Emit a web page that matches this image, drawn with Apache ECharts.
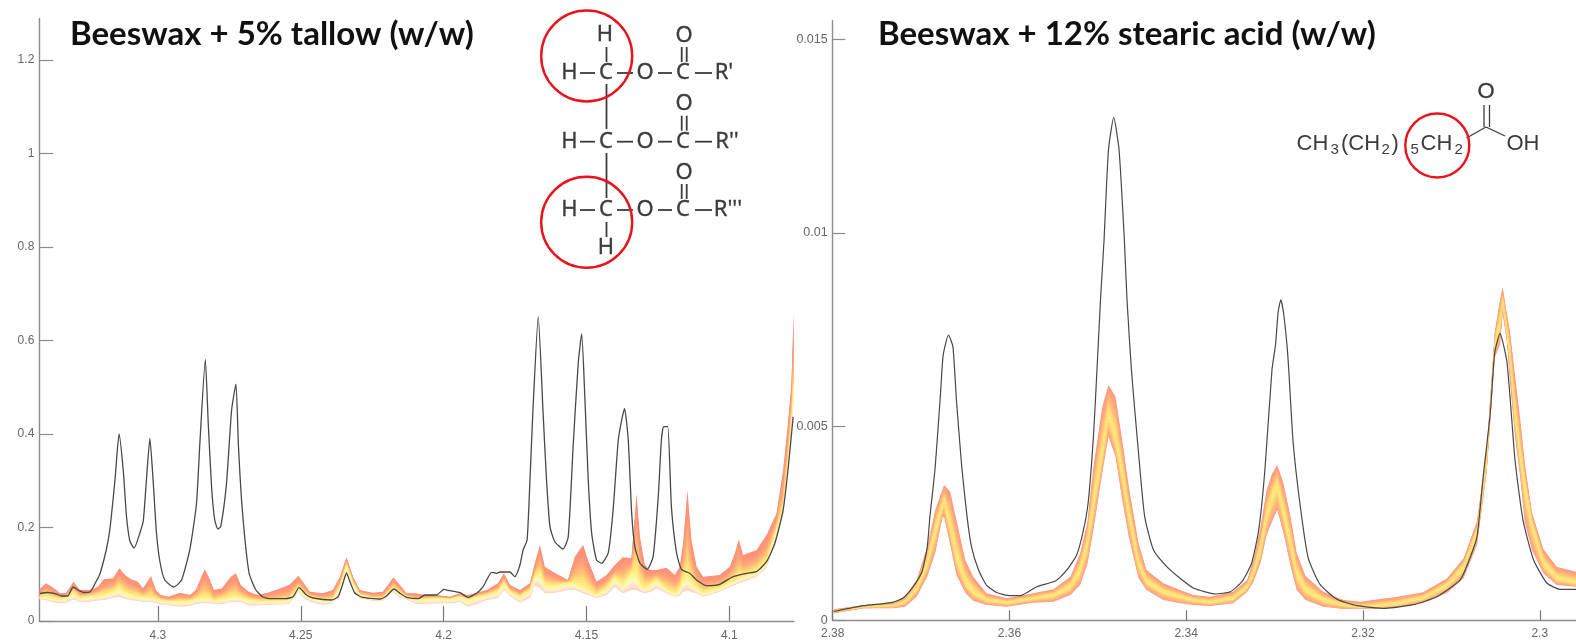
<!DOCTYPE html>
<html>
<head>
<meta charset="utf-8">
<style>html,body{margin:0;padding:0;background:#fff}#c{width:1576px;height:642px;filter:blur(0.4px)}</style>
<script src="https://cdn.jsdelivr.net/npm/echarts@6/dist/echarts.min.js"></script>
</head>
<body>
<div id="c"></div>
<script>
const leftYTicks = [0, 0.2, 0.4, 0.6, 0.8, 1, 1.2];
const leftXTicks = [4.3, 4.25, 4.2, 4.15, 4.1];
const rightYTicks = [0, 0.005, 0.01, 0.015];
const rightXTicks = [2.38, 2.36, 2.34, 2.32, 2.3];
const leftTitle = 'Beeswax + 5% tallow (w/w)';
const rightTitle = 'Beeswax + 12% stearic acid (w/w)';

// Left panel: envelope of the sample spectra (upper edge, yellow core, lower edge)
const leftBandX = [4.3413,4.3392,4.3371,4.3343,4.3322,4.3295,4.3273,4.3238,4.3210,4.3189,4.3157,4.3135,4.3115,4.3094,4.3070,4.3052,4.3024,4.3007,4.2990,4.2962,4.2923,4.2888,4.2867,4.2850,4.2836,4.2820,4.2804,4.2776,4.2745,4.2727,4.2710,4.2682,4.2651,4.2622,4.2587,4.2541,4.2508,4.2493,4.2468,4.2423,4.2388,4.2363,4.2340,4.2317,4.2293,4.2248,4.2213,4.2195,4.2176,4.2153,4.2130,4.2097,4.2066,4.2025,4.1978,4.1943,4.1915,4.1884,4.1849,4.1810,4.1789,4.1768,4.1733,4.1698,4.1681,4.1663,4.1646,4.1618,4.1565,4.1541,4.1512,4.1495,4.1465,4.1430,4.1401,4.1373,4.1343,4.1325,4.1313,4.1296,4.1278,4.1255,4.1220,4.1191,4.1174,4.1162,4.1147,4.1133,4.1115,4.1092,4.1034,4.0999,4.0981,4.0967,4.0952,4.0905,4.0870,4.0835,4.0812,4.0795,4.0783,4.0775];
const leftBandTop = [.0684,.0806,.0734,.0599,.0593,.0841,.0663,.0663,.0734,.0892,.0913,.1127,.0984,.0892,.0841,.0699,.0963,.0663,.0556,.0520,.0605,.0556,.0663,.0913,.1106,.0913,.0663,.0699,.0948,.1020,.0770,.0627,.0556,.0593,.0663,.0770,.0969,.0841,.0627,.0593,.0663,.0948,.1363,.0948,.0663,.0605,.0627,.0770,.0935,.0770,.0593,.0593,.0556,.0556,.0520,.0593,.0556,.0605,.0663,.0806,.1020,.0770,.0663,.0806,.1234,.1626,.1161,.1055,.0877,.1375,.1626,.1305,.0841,.0984,.1198,.1363,.1341,.2732,.1803,.1198,.1091,.1091,.1140,.0984,.1161,.1662,.2802,.1733,.1161,.0948,.0984,.1161,.1448,.1748,.1412,.1519,.1840,.2304,.3230,.4235,.5091,.6616];
const leftBandMid = [.0507,.0520,.0492,.0464,.0492,.0593,.0486,.0520,.0545,.0556,.0620,.0699,.0599,.0556,.0520,.0503,.0492,.0471,.0449,.0413,.0413,.0428,.0460,.0481,.0486,.0481,.0428,.0471,.0513,.0520,.0503,.0449,.0428,.0413,.0417,.0434,.0699,.0599,.0513,.0449,.0449,.0734,.1198,.0806,.0556,.0486,.0471,.0599,.0699,.0599,.0520,.0449,.0464,.0486,.0464,.0520,.0449,.0513,.0556,.0627,.0806,.0627,.0520,.0663,.0948,.1005,.0770,.0734,.0813,.0791,.0734,.0663,.0556,.0699,.0913,.0770,.1020,.1020,.0770,.0699,.0770,.0877,.0663,.0593,.0663,.0877,.0948,.0813,.0699,.0593,.0699,.0813,.0856,.0913,.0941,.1055,.1241,.1946,.2374,.3380,.4235,.5027];
const leftBandLow = [.0449,.0449,.0406,.0379,.0385,.0464,.0400,.0413,.0438,.0449,.0492,.0520,.0471,.0449,.0428,.0413,.0413,.0385,.0353,.0342,.0306,.0321,.0364,.0374,.0385,.0379,.0364,.0364,.0406,.0413,.0406,.0332,.0332,.0342,.0353,.0364,.0627,.0513,.0413,.0342,.0379,.0593,.1020,.0663,.0486,.0434,.0434,.0535,.0627,.0492,.0464,.0364,.0364,.0379,.0379,.0406,.0306,.0364,.0449,.0486,.0663,.0535,.0391,.0492,.0770,.0706,.0599,.0593,.0663,.0663,.0593,.0556,.0486,.0556,.0734,.0593,.0663,.0663,.0620,.0593,.0620,.0699,.0593,.0520,.0535,.0620,.0663,.0620,.0593,.0520,.0627,.0727,.0770,.0806,.0834,.0948,.1134,.1840,.2267,.3230,.4086,.4727];

// Left panel: reference beeswax spectrum
const leftRefX = [4.3413,4.3385,4.3357,4.3336,4.3315,4.3297,4.3280,4.3259,4.3238,4.3217,4.3203,4.3180,4.3168,4.3150,4.3136,4.3121,4.3110,4.3098,4.3083,4.3063,4.3051,4.3040,4.3028,4.3016,4.3005,4.2993,4.2976,4.2944,4.2917,4.2888,4.2865,4.2853,4.2834,4.2824,4.2812,4.2801,4.2790,4.2780,4.2760,4.2742,4.2727,4.2718,4.2704,4.2681,4.2657,4.2634,4.2611,4.2552,4.2527,4.2506,4.2480,4.2457,4.2392,4.2369,4.2352,4.2340,4.2328,4.2311,4.2287,4.2223,4.2200,4.2174,4.2153,4.2130,4.2089,4.2066,4.2025,4.1999,4.1978,4.1943,4.1914,4.1885,4.1862,4.1832,4.1815,4.1803,4.1768,4.1751,4.1733,4.1722,4.1708,4.1698,4.1687,4.1669,4.1652,4.1640,4.1628,4.1611,4.1582,4.1564,4.1547,4.1529,4.1517,4.1506,4.1494,4.1482,4.1465,4.1447,4.1424,4.1407,4.1389,4.1377,4.1367,4.1354,4.1342,4.1331,4.1313,4.1288,4.1267,4.1249,4.1238,4.1230,4.1216,4.1203,4.1185,4.1168,4.1139,4.1115,4.1080,4.1034,4.0987,4.0940,4.0905,4.0870,4.0841,4.0812,4.0795,4.0777];
const leftRefY = [.0588,.0610,.0578,.0535,.0535,.0727,.0663,.0610,.0620,.0834,.1005,.1540,.1968,.3027,.4000,.3209,.2246,.1711,.1561,.1882,.2150,.3027,.3904,.2939,.1882,.1273,.0877,.0727,.0877,.1540,.2503,.3816,.5596,.4257,.2851,.2160,.1968,.2019,.2939,.4513,.5069,.3728,.2332,.1027,.0663,.0520,.0477,.0477,.0520,.0712,.0556,.0492,.0449,.0520,.0813,.1027,.0841,.0599,.0513,.0471,.0535,.0684,.0593,.0507,.0477,.0556,.0556,.0678,.0648,.0605,.0507,.0593,.0734,.1042,.1020,.1048,.1048,.0948,.1198,.1519,.1733,.3016,.4584,.6509,.4449,.3016,.2017,.1696,.1540,.1803,.3728,.5519,.6139,.4798,.3016,.1876,.1305,.1234,.1455,.2374,.3872,.4299,.4550,.3872,.2304,.1589,.1234,.1106,.1375,.2659,.3872,.4156,.4156,.2445,.1455,.1106,.1020,.0877,.0755,.0785,.0948,.1020,.1055,.1268,.1662,.2374,.3230,.4370];

// Right panel: envelope of the sample spectra
const rightBandX = [2.3799,2.3765,2.3731,2.3718,2.3705,2.3693,2.3684,2.3676,2.3674,2.3667,2.3660,2.3650,2.3641,2.3626,2.3603,2.3573,2.3550,2.3531,2.3520,2.3512,2.3505,2.3495,2.3488,2.3480,2.3473,2.3465,2.3454,2.3445,2.3426,2.3407,2.3392,2.3373,2.3347,2.3331,2.3324,2.3316,2.3309,2.3303,2.3297,2.3290,2.3282,2.3275,2.3265,2.3245,2.3222,2.3203,2.3181,2.3162,2.3132,2.3105,2.3086,2.3071,2.3060,2.3051,2.3045,2.3042,2.3037,2.3034,2.3028,2.3022,2.3017,2.3009,2.2996,2.2981,2.2959];
const rightBandTop = [.000284,.000395,.000454,.000609,.00104,.0019,.002848,.003364,.003493,.00332,.00259,.001557,.001126,.000697,.000568,.000697,.0008,.001126,.00173,.002505,.003966,.005515,.006075,.005773,.004741,.00345,.001988,.001299,.000955,.000782,.000653,.000609,.000738,.00104,.001557,.002409,.003364,.003777,.00401,.003545,.002675,.001738,.001144,.000738,.000524,.00048,.00055,.000602,.000723,.001077,.001609,.002564,.004397,.007418,.00827,.008606,.007883,.007496,.006334,.005172,.004061,.002796,.001841,.001384,.001255];
const rightBandMid = [.000222,.000351,.000377,.00048,.000826,.001472,.002332,.002933,.003106,.002417,.001642,.000997,.000738,.000524,.000454,.000568,.000653,.000868,.001299,.001988,.003021,.004312,.005345,.004655,.003881,.002763,.001472,.000997,.000738,.000609,.000524,.000465,.000568,.000868,.001221,.001815,.002675,.003184,.003493,.002796,.001996,.001221,.000782,.000524,.000395,.000336,.000369,.000421,.000576,.000911,.001376,.00228,.004139,.007108,.007702,.008193,.007444,.006902,.005301,.004224,.003493,.002512,.00148,.001092,.000963];
const rightBandLow = [.000181,.00031,.00031,.000351,.000609,.001126,.00173,.002634,.002675,.001944,.00117,.000713,.000506,.000395,.000351,.000454,.00048,.000653,.000911,.001428,.002332,.003796,.004741,.004224,.003191,.002159,.001084,.000782,.000524,.000439,.000395,.000369,.000439,.000731,.000989,.001472,.002202,.002538,.002848,.002254,.001402,.000782,.000524,.000351,.000292,.000305,.000292,.00033,.000447,.000705,.001092,.001944,.003829,.006773,.007108,.007934,.00716,.006256,.004741,.003674,.002538,.001815,.001214,.000911,.000868];

// Right panel: reference beeswax spectrum
const rightRefX = [2.3799,2.3765,2.3732,2.3720,2.3709,2.3699,2.3693,2.3690,2.3684,2.3678,2.3675,2.3669,2.3664,2.3660,2.3654,2.3648,2.3643,2.3635,2.3626,2.3614,2.3599,2.3588,2.3569,2.3548,2.3535,2.3524,2.3517,2.3511,2.3505,2.3501,2.3497,2.3493,2.3488,2.3482,2.3476,2.3470,2.3467,2.3462,2.3454,2.3447,2.3437,2.3422,2.3407,2.3392,2.3367,2.3350,2.3337,2.3326,2.3318,2.3311,2.3303,2.3299,2.3296,2.3293,2.3290,2.3286,2.3284,2.3279,2.3271,2.3262,2.3249,2.3230,2.3207,2.3175,2.3143,2.3117,2.3090,2.3079,2.3071,2.3064,2.3056,2.3051,2.3045,2.3037,2.3028,2.3019,2.3007,2.2992,2.2977,2.2959];
const rightRefY = [.000227,.000377,.000465,.000584,.000868,.001255,.0019,.002675,.003966,.005861,.00685,.007366,.007064,.005688,.003966,.002675,.0019,.001299,.000911,.000713,.000635,.000635,.000868,.001015,.001299,.001686,.002254,.003029,.004741,.006463,.00827,.00982,.012143,.012987,.012143,.00982,.00827,.006463,.00432,.002675,.001815,.001384,.001084,.000834,.000679,.000738,.000997,.001472,.002332,.003881,.006463,.007108,.00796,.008275,.00796,.007108,.006463,.004578,.002951,.001609,.000937,.00055,.000377,.00031,.000405,.000602,.001041,.001609,.002159,.003708,.005353,.006902,.00741,.006644,.004139,.00259,.001557,.000963,.0008,.0008];

const zip = (xs, ...cols) => xs.map((x, i) => [x, ...cols.map(c => c[i])]);

function hex2rgb(h){return [1,3,5].map(k=>parseInt(h.substr(k,2),16));}
function ramp(stops,t){
  const p=t*(stops.length-1),i=Math.min(Math.floor(p),stops.length-2),f=p-i;
  const a=hex2rgb(stops[i]),b=hex2rgb(stops[i+1]);
  return 'rgb('+a.map((v,k)=>Math.round(v+(b[k]-v)*f)).join(',')+')';
}
// Draws the fan of spectra as nested strips that close in on the yellow core
function fan(upStops, lowStops, steps){
  return function(params, api){
    if(params.dataIndexInside!==0) return null;
    const n=params.dataInsideLength, U=[],M=[],L=[];
    for(let i=0;i<n;i++){
      const x=api.value(0,i);
      U.push(api.coord([x,api.value(1,i)]));
      M.push(api.coord([x,api.value(2,i)]));
      L.push(api.coord([x,api.value(3,i)]));
    }
    const lerp=(A,B,t)=>A.map((p,i)=>[p[0],p[1]+(B[i][1]-p[1])*t]);
    const children=[];
    for(let k=0;k<steps;k++){
      const t=k/steps;
      children.push({type:'polygon',shape:{points:lerp(U,M,t).concat(M.slice().reverse())},style:{fill:ramp(upStops,t)}});
    }
    for(let k=0;k<steps;k++){
      const t=k/steps;
      children.push({type:'polygon',shape:{points:lerp(L,M,t).concat(M.slice().reverse())},style:{fill:ramp(lowStops,t)}});
    }
    return {type:'group',children};
  };
}

const axisColor='#8c8c8c', labelColor='#666', molColor='#3c3c3c', ringColor='#e8141c';
const sans='"Liberation Sans", Arial, sans-serif';
const fmt=v=>String(v);
function xAxis(idx,min,max,ticks,tickLen,margin,size){
  return {type:'value',gridIndex:idx,min,max,inverse:true,
    axisLine:{show:true,onZero:false,lineStyle:{color:axisColor,width:1.4}},
    axisTick:{show:true,inside:true,length:tickLen,customValues:ticks,lineStyle:{color:'#777',width:1.2}},
    axisLabel:{show:true,customValues:ticks,margin,color:labelColor,fontSize:size,fontFamily:sans,formatter:fmt},
    splitLine:{show:false}};
}
function yAxis(idx,max,ticks,tickLen,margin,size){
  return {type:'value',gridIndex:idx,min:0,max,
    axisLine:{show:true,onZero:false,lineStyle:{color:axisColor,width:1.4}},
    axisTick:{show:true,inside:true,length:tickLen,customValues:ticks,lineStyle:{color:'#8c8c8c',width:1.2}},
    axisLabel:{show:true,customValues:ticks,margin,color:labelColor,fontSize:size,fontFamily:sans,formatter:fmt},
    splitLine:{show:false}};
}

// Chemical structure annotations
const txt=(x,y,text,size,family)=>({type:'text',x,y,silent:true,style:{text,fill:molColor,stroke:molColor,lineWidth:.35,font:size+'px '+(family||'"Noto Sans", sans-serif'),align:'center',verticalAlign:'middle'}});
const txtL=(x,y,text,size)=>({type:'text',x,y,silent:true,style:{text,fill:molColor,font:size+'px '+sans,align:'left',verticalAlign:'middle'}});
const bond=(x1,y1,x2,y2,w)=>({type:'line',silent:true,shape:{x1,y1,x2,y2},style:{stroke:molColor,lineWidth:w||1.8}});
const ring=(cx,cy,r)=>({type:'circle',silent:true,shape:{cx,cy,r},style:{fill:'transparent',stroke:ringColor,lineWidth:2.4}});
const rows=[[73,"R'",724],[141.7,"R''",727],[210,"R'''",728]];
const mol=[];
rows.forEach(([y,r,rx])=>{
  mol.push(txt(569.5,y,'H',22),txt(606,y,'C',22),txt(645,y,'O',22),txt(683,y,'C',22),txt(rx,y,r,22));
  mol.push(bond(580,y,595,y),bond(617,y,633,y),bond(658,y,672,y),bond(695,y,712,y));
  mol.push(txt(684,y-37.5,'O',22),bond(681.7,y-26,681.7,y-11),bond(686.7,y-26,686.7,y-11));
});
mol.push(txt(605,35,'H',22),bond(606.5,47,606.5,62),bond(606.5,84,606.5,129),bond(606.5,153,606.5,198),bond(606.5,222,606.5,237),txt(606,248,'H',22));
mol.push(ring(586.7,56,45.5),ring(586.7,222.3,45.5));
mol.push(
  txtL(1296.5,143.5,'CH',22),txtL(1330.5,150,'3',15),txtL(1341,143.5,'(CH',22),txtL(1381.5,150,'2',15),txtL(1391.5,143.5,')',22),
  txtL(1410.5,150,'5',15),txtL(1420.5,143.5,'CH',22),txtL(1454.5,150,'2',15),
  txt(1486,91.5,'O',22,sans),txtL(1506.5,143.5,'OH',22),
  bond(1466.5,138,1486,127,1.3),bond(1486,127,1505,136,1.3),bond(1484,105,1484,127,1.3),bond(1489.5,105,1489.5,127,1.3),
  ring(1437.3,145.5,32)
);

const chart=echarts.init(document.getElementById('c'),null,{renderer:'canvas'});
chart.setOption({
  animation:false,
  backgroundColor:'#fff',
  title:[
    {text:leftTitle,left:65,top:13,textStyle:{fontFamily:'Lato, sans-serif',fontWeight:'bold',fontSize:33,color:'#111'}},
    {text:rightTitle,left:873,top:13,textStyle:{fontFamily:'Lato, sans-serif',fontWeight:'bold',fontSize:33,color:'#111'}}
  ],
  grid:[
    {left:39.3,right:782,top:18.4,bottom:21},
    {left:832.7,right:0,top:20.7,bottom:21.7}
  ],
  xAxis:[xAxis(0,4.0774,4.3415,leftXTicks,15,9,12),xAxis(1,2.2959,2.38,rightXTicks,10,7,12)],
  yAxis:[yAxis(0,1.289,leftYTicks,14,5,12),yAxis(1,.01548,rightYTicks,12.7,5,12.5)],
  series:[
    {type:'custom',name:'Beeswax + 5% tallow',xAxisIndex:0,yAxisIndex:0,coordinateSystem:'cartesian2d',clip:true,
     encode:{x:0,y:[1,2,3]},data:zip(leftBandX,leftBandTop,leftBandMid,leftBandLow),
     renderItem:fan(['#ff8f7a','#ff9678','#ffa578','#ffc078','#ffe47a','#fff27e'],['#ffd0c0','#ffe6cc','#fff6c8','#fff7a0','#fff27e'],12),z:2},
    {type:'line',name:'Beeswax',xAxisIndex:0,yAxisIndex:0,data:zip(leftRefX,leftRefY),showSymbol:false,smooth:.18,
     lineStyle:{color:'#484848',width:1.3},z:3},
    {type:'custom',name:'Beeswax + 12% stearic acid',xAxisIndex:1,yAxisIndex:1,coordinateSystem:'cartesian2d',clip:true,
     encode:{x:0,y:[1,2,3]},data:zip(rightBandX,rightBandTop,rightBandMid,rightBandLow),
     renderItem:fan(['#ff9a86','#ffa878','#ffc478','#ffe07a','#fff27e'],['#ff9f90','#ffb07c','#ffc878','#ffe27a','#fff27e'],12),z:2},
    {type:'line',name:'Beeswax',xAxisIndex:1,yAxisIndex:1,data:zip(rightRefX,rightRefY),showSymbol:false,smooth:.18,
     lineStyle:{color:'#484848',width:1.2},z:3}
  ],
  graphic:mol
});
</script>
</body>
</html>
